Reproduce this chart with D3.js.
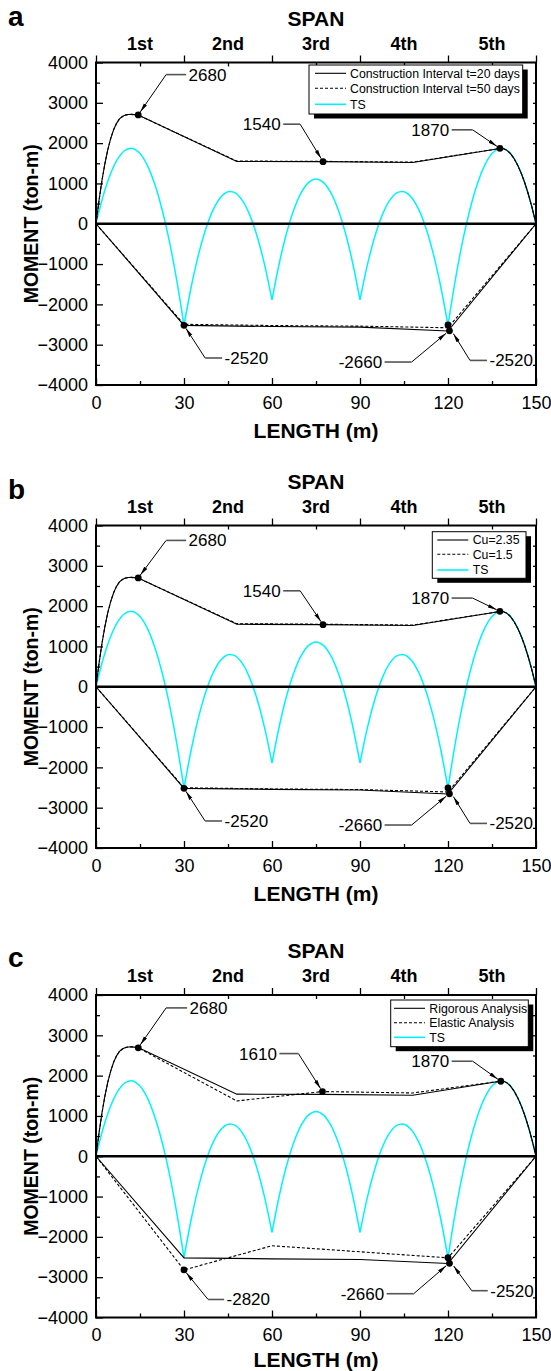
<!DOCTYPE html>
<html><head><meta charset="utf-8">
<script src="https://cdn.jsdelivr.net/npm/d3@7"></script>
<style>
body{margin:0;background:#fff}
svg{display:block}
text{font-family:"Liberation Sans",Arial,Helvetica,sans-serif;fill:#000}
</style>
</head><body>
<svg id="chart" width="551" height="1371"></svg>
<script>
// ---------------- DATA ----------------
const lengthTicks = [0, 30, 60, 90, 120, 150];
const lengthMinor = [15, 45, 75, 105, 135];
const momentTicks = [4000, 3000, 2000, 1000, 0, -1000, -2000, -3000, -4000];
const momentMinor = [3500, 2500, 1500, 500, -500, -1500, -2500, -3500];
const momentRight = [3500, 3000, 2500, 2000, 1500, 1000, 500, 0, -500, -1000, -1500, -2000, -2500, -3000, -3500];
const spanNames = ["1st", "2nd", "3rd", "4th", "5th"];
const spanMid = [15, 45, 75, 105, 135];
const spanBounds = [0, 30, 60, 90, 120, 150];

// TS moment curve (x in m, moment in ton-m)
const tsCurve = [
  [0,0],[2.5,707],[5,1247],[7.5,1620],[10,1827],[12.5,1867],[15,1740],[17.5,1447],[20,987],[22.5,360],[25,-433],[27.5,-1393],[30,-2520],
  [32.5,-1551],[35,-748],[37.5,-112],[40,357],[42.5,659],[45,795],[47.5,764],[50,567],[52.5,202],[55,-328],[57.5,-1026],[60,-1890],
  [62.5,-973],[65,-223],[67.5,360],[70,777],[72.5,1027],[75,1110],[77.5,1027],[80,777],[82.5,360],[85,-223],[87.5,-973],[90,-1890],
  [92.5,-1026],[95,-328],[97.5,202],[100,567],[102.5,764],[105,795],[107.5,659],[110,357],[112.5,-112],[115,-748],[117.5,-1551],[120,-2520],
  [122.5,-1393],[125,-433],[127.5,360],[130,987],[132.5,1447],[135,1740],[137.5,1867],[140,1827],[142.5,1620],[145,1247],[147.5,707],[150,0]
];

// Panel a: construction interval
const aSolidTop = [[0,0],[1,560],[2,1060],[3,1480],[4,1830],[5,2110],[6,2330],[7,2490],[8,2600],[9,2660],[10,2695],[11,2710],[12,2712],[13,2706],[14.4,2695],
  [48,1545],[77.4,1540],[108,1520],[137.7,1867],[138.75,1866],[140,1827],[141.25,1744],[142.5,1620],[143.75,1454],[145,1247],[146.25,998],[147.5,707],[148.75,374],[150,0]];
const aDashTop = [[0,0],[1,560],[2,1060],[3,1480],[4,1830],[5,2110],[6,2330],[7,2490],[8,2600],[9,2660],[10,2695],[11,2710],[12,2712],[13,2706],[14.4,2695],
  [48,1555],[77.4,1548],[108,1530],[137.7,1867],[138.75,1866],[140,1827],[141.25,1744],[142.5,1620],[143.75,1454],[145,1247],[146.25,998],[147.5,707],[148.75,374],[150,0]];
const aSolidBot = [[0,0],[30,-2520],[60,-2550],[90,-2565],[120,-2660],[150,0]];
const aDashBot = [[0,0],[30,-2495],[60,-2525],[90,-2540],[120,-2580],[150,0]];
const aDots = [[14.4,2700],[77.4,1540],[137.7,1870],[30,-2520],[120,-2510],[120.5,-2655]];
const aNames = ["Construction Interval t=20 days", "Construction Interval t=50 days", "TS"];

// Panel b: Cu
const bSolidTop = [[0,0],[1,560],[2,1060],[3,1480],[4,1830],[5,2110],[6,2330],[7,2490],[8,2600],[9,2660],[10,2695],[11,2710],[12,2712],[13,2706],[14.4,2695],
  [48,1550],[77.4,1540],[108,1520],[137.7,1867],[138.75,1866],[140,1827],[141.25,1744],[142.5,1620],[143.75,1454],[145,1247],[146.25,998],[147.5,707],[148.75,374],[150,0]];
const bDashTop = [[0,0],[1,560],[2,1060],[3,1480],[4,1830],[5,2110],[6,2330],[7,2490],[8,2600],[9,2660],[10,2695],[11,2710],[12,2712],[13,2706],[14.4,2695],
  [48,1565],[77.4,1550],[108,1530],[137.7,1867],[138.75,1866],[140,1827],[141.25,1744],[142.5,1620],[143.75,1454],[145,1247],[146.25,998],[147.5,707],[148.75,374],[150,0]];
const bSolidBot = [[0,0],[30,-2520],[60,-2545],[90,-2560],[120,-2660],[150,0]];
const bDashBot = [[0,0],[30,-2505],[60,-2535],[90,-2550],[120,-2610],[150,0]];
const bDots = [[14.4,2700],[77.4,1540],[137.7,1870],[30,-2520],[120,-2510],[120.5,-2655]];
const bNames = ["Cu=2.35", "Cu=1.5", "TS"];

// Panel c: rigorous vs elastic
const cSolidTop = [[0,0],[1,560],[2,1060],[3,1480],[4,1830],[5,2110],[6,2330],[7,2490],[8,2600],[9,2660],[10,2695],[11,2710],[12,2712],[13,2706],[14.4,2695],
  [48,1540],[77.2,1535],[108,1515],[137.7,1860],[138.75,1866],[140,1827],[141.25,1744],[142.5,1620],[143.75,1454],[145,1247],[146.25,998],[147.5,707],[148.75,374],[150,0]];
const cDashTop = [[0,0],[1,560],[2,1060],[3,1480],[4,1830],[5,2110],[6,2330],[7,2490],[8,2600],[9,2660],[10,2695],[11,2710],[12,2712],[13,2706],[14.4,2690],
  [48,1372],[77.2,1605],[108,1570],[137.7,1860],[138.75,1866],[140,1827],[141.25,1744],[142.5,1620],[143.75,1454],[145,1247],[146.25,998],[147.5,707],[148.75,374],[150,0]];
const cSolidBot = [[0,0],[30,-2520],[60,-2545],[90,-2560],[120,-2660],[150,0]];
const cDashBot = [[0,0],[30,-2820],[60,-2220],[120,-2520],[150,0]];
const cDots = [[14.4,2690],[77.2,1605],[138,1860],[30,-2820],[120,-2515],[120.5,-2655]];
const cNames = ["Rigorous Analysis", "Elastic Analysis", "TS"];

// value callouts: label, target (x, M), elbow (x, M), side
const aNotes = [
  {t:"2680", x:14.4, m:2700, ex:23.9, em:3700, dir:1, len:20},
  {t:"1540", x:77.4, m:1540, ex:69.6, em:2470, dir:-1, len:17},
  {t:"1870", x:137.7, m:1870, ex:128.4, em:2330, dir:-1, len:21},
  {t:"-2520", x:30, m:-2520, ex:37.2, em:-3330, dir:1, len:17},
  {t:"-2660", x:120.3, m:-2660, ex:107.6, em:-3430, dir:-1, len:27},
  {t:"-2520", x:121.2, m:-2650, ex:127.5, em:-3390, dir:1, len:17}
];
const bNotes = [
  {t:"2680", x:14.4, m:2700, ex:23.9, em:3630, dir:1, len:20},
  {t:"1540", x:77.4, m:1540, ex:69.6, em:2380, dir:-1, len:17},
  {t:"1870", x:137.7, m:1870, ex:128.4, em:2200, dir:-1, len:21},
  {t:"-2520", x:30, m:-2520, ex:37.2, em:-3330, dir:1, len:17},
  {t:"-2660", x:120.3, m:-2660, ex:107.6, em:-3430, dir:-1, len:27},
  {t:"-2520", x:121.2, m:-2650, ex:127.5, em:-3390, dir:1, len:17}
];
const cNotes = [
  {t:"2680", x:14.4, m:2690, ex:23.9, em:3680, dir:1, len:21},
  {t:"1610", x:77.2, m:1605, ex:69, em:2547, dir:-1, len:19},
  {t:"1870", x:138, m:1860, ex:128.4, em:2357, dir:-1, len:21},
  {t:"-2820", x:30, m:-2820, ex:38.2, em:-3553, dir:1, len:16},
  {t:"-2660", x:120.3, m:-2660, ex:108.3, em:-3410, dir:-1, len:27},
  {t:"-2520", x:121.2, m:-2650, ex:128.1, em:-3335, dir:1, len:16}
];

// ---------------- DRAWING ----------------
const svg = d3.select("#chart");
const defs = svg.append("defs");
defs.append("marker").attr("id","arr").attr("markerUnits","userSpaceOnUse")
  .attr("markerWidth",10).attr("markerHeight",5).attr("refX",9).attr("refY",2.5)
  .attr("orient","auto").append("path").attr("d","M0,0.6 L9,2.5 L0,4.4 Z").attr("fill","#000");

const X0 = 96, X1 = 536, PH = 322.5;
const x = d3.scaleLinear().domain([0,150]).range([X0, X1]);
const CYAN = "#00f2ff";

function panel(o) {
  const top = o.top, bottom = top + PH;
  const y = d3.scaleLinear().domain([-4000,4000]).range([bottom, top]);
  const g = svg.append("g");
  const line = d3.line().x(d => x(d[0])).y(d => y(d[1]));

  // TS curve, span by span
  for (let k = 0; k < 5; k++) {
    const seg = tsCurve.filter(d => d[0] >= spanBounds[k] && d[0] <= spanBounds[k+1]);
    g.append("path").attr("d", d3.line().x(d => x(d[0])).y(d => y(d[1])).curve(d3.curveCatmullRom.alpha(0.5))(seg))
      .attr("fill","none").attr("stroke",CYAN).attr("stroke-width",1.5);
  }
  // zero line
  g.append("line").attr("x1",X0).attr("x2",X1).attr("y1",y(0)).attr("y2",y(0)).attr("stroke","#000").attr("stroke-width",2.4);

  // envelopes
  [[o.solidTop,null],[o.solidBot,null],[o.dashTop,"3,2"],[o.dashBot,"3,2"]].forEach(([s,dash]) => {
    const p = g.append("path").attr("d", line(s)).attr("fill","none").attr("stroke","#000").attr("stroke-width",1.1);
    if (dash) p.attr("stroke-dasharray", dash);
  });

  // dots
  g.selectAll(null).data(o.dots).join("circle").attr("cx", d => x(d[0])).attr("cy", d => y(d[1])).attr("r",3.4).attr("fill","#000");

  // callouts
  o.notes.forEach(n => {
    const ex = x(n.ex), ey = y(n.em), tx = x(n.x), ty = y(n.m);
    const dx = tx - ex, dy = ty - ey, L = Math.hypot(dx, dy);
    const ax = tx - dx / L * 3.6, ay = ty - dy / L * 3.6;
    g.append("line").attr("x1",ex).attr("y1",ey).attr("x2",ax).attr("y2",ay)
      .attr("stroke","#000").attr("stroke-width",1).attr("marker-end","url(#arr)");
    const hx = ex + n.dir * n.len;
    g.append("line").attr("x1",ex).attr("y1",ey).attr("x2",hx).attr("y2",ey).attr("stroke","#555").attr("stroke-width",1.6);
    g.append("text").attr("x", hx + n.dir * 2.5).attr("y", ey).attr("dy","0.35em")
      .attr("text-anchor", n.dir > 0 ? "start" : "end").attr("font-size",17).text(n.t);
  });

  // axes
  const fs = 18;
  const yl = g.append("g").attr("transform",`translate(${X0},0)`)
    .call(d3.axisLeft(y).tickValues(momentTicks).tickSizeInner(-7).tickSizeOuter(0).tickPadding(8).tickFormat(d3.format("d")));
  const yl2 = g.append("g").attr("transform",`translate(${X0},0)`)
    .call(d3.axisLeft(y).tickValues(momentMinor).tickSizeInner(-4).tickSizeOuter(0).tickFormat(""));
  const yr = g.append("g").attr("transform",`translate(${X1},0)`)
    .call(d3.axisRight(y).tickValues(momentRight).tickSizeInner(-3).tickSizeOuter(0).tickFormat(""));
  const xb = g.append("g").attr("transform",`translate(0,${bottom})`)
    .call(d3.axisBottom(x).tickValues(lengthTicks).tickSizeInner(-7).tickSizeOuter(0).tickPadding(11));
  const xb2 = g.append("g").attr("transform",`translate(0,${bottom})`)
    .call(d3.axisBottom(x).tickValues(lengthMinor).tickSizeInner(-4).tickSizeOuter(0).tickFormat(""));
  const xt = g.append("g").attr("transform",`translate(0,${top})`)
    .call(d3.axisTop(x).tickValues(spanBounds).tickSizeInner(7).tickSizeOuter(0).tickFormat(""));
  const xt2 = g.append("g").attr("transform",`translate(0,${top})`)
    .call(d3.axisTop(x).tickValues(spanMid).tickSizeInner(-4).tickSizeOuter(0).tickFormat(""));
  [yl,yl2,yr,xb,xb2,xt,xt2].forEach(a => {
    a.select(".domain").remove();
    a.selectAll(".tick line").attr("stroke","#000").attr("stroke-width",1.3);
    a.selectAll(".tick text").attr("font-size",fs).attr("font-family","Liberation Sans, Arial, sans-serif").attr("fill","#000");
  });
  // frame
  g.append("rect").attr("x",X0).attr("y",top).attr("width",X1-X0).attr("height",PH)
    .attr("fill","none").attr("stroke","#000").attr("stroke-width",2);

  // span labels
  g.selectAll(null).data(spanNames).join("text").attr("x",(d,i) => x(spanMid[i])).attr("y", top - 13)
    .attr("text-anchor","middle").attr("font-weight","bold").attr("font-size",18).text(d => d);
  g.append("text").attr("x",(X0+X1)/2).attr("y",top-37).attr("text-anchor","middle")
    .attr("font-weight","bold").attr("font-size",21).text("SPAN");
  g.append("text").attr("x",(X0+X1)/2).attr("y",bottom+o.lenY).attr("text-anchor","middle")
    .attr("font-weight","bold").attr("font-size",21).text("LENGTH (m)");
  g.append("text").attr("transform",`translate(38,${(top+bottom)/2}) rotate(-90)`).attr("text-anchor","middle")
    .attr("font-weight","bold").attr("font-size",19.5).text("MOMENT (ton-m)");
  g.append("text").attr("x",8).attr("y",o.letterY).attr("font-weight","bold").attr("font-size",28).text(o.letter);

  // legend
  const L = o.leg;
  g.append("rect").attr("x",L.x+5).attr("y",top+L.y+4.5).attr("width",L.w).attr("height",L.h).attr("fill","#000");
  g.append("rect").attr("x",L.x).attr("y",top+L.y).attr("width",L.w).attr("height",L.h).attr("fill","#fff").attr("stroke","#000").attr("stroke-width",1);
  o.names.forEach((nm,i) => {
    const ry = top + L.rows[i];
    const ln = g.append("line").attr("x1",L.lx).attr("x2",L.lx+31).attr("y1",ry).attr("y2",ry)
      .attr("stroke", i === 2 ? CYAN : "#000").attr("stroke-width", i === 2 ? 1.6 : 1.1);
    if (i === 1) ln.attr("stroke-dasharray","3,2");
    g.append("text").attr("x",L.tx).attr("y",ry).attr("dy","0.35em").attr("font-size",12.3).text(nm);
  });
}

panel({letter:"a", letterY:26, lenY:53, top:62.5, solidTop:aSolidTop, dashTop:aDashTop, solidBot:aSolidBot, dashBot:aDashBot,
  dots:aDots, notes:aNotes, names:aNames,
  leg:{x:309, y:2.5, w:213.7, h:49, rows:[10.8,25.8,41.8], lx:315, tx:350}});
panel({letter:"b", letterY:499, lenY:53, top:525.5, solidTop:bSolidTop, dashTop:bDashTop, solidBot:bSolidBot, dashBot:bDashBot,
  dots:bDots, notes:bNotes, names:bNames,
  leg:{x:432.3, y:6.2, w:93.7, h:46.6, rows:[14.5,28.8,44.5], lx:437.3, tx:472.7}});
panel({letter:"c", letterY:967, lenY:49, top:995, solidTop:cSolidTop, dashTop:cDashTop, solidBot:cSolidBot, dashBot:cDashBot,
  dots:cDots, notes:cNotes, names:cNames,
  leg:{x:390.7, y:5, w:137.6, h:46.7, rows:[13.3,27.7,42.3], lx:394, tx:429.3}});
</script>
</body></html>
